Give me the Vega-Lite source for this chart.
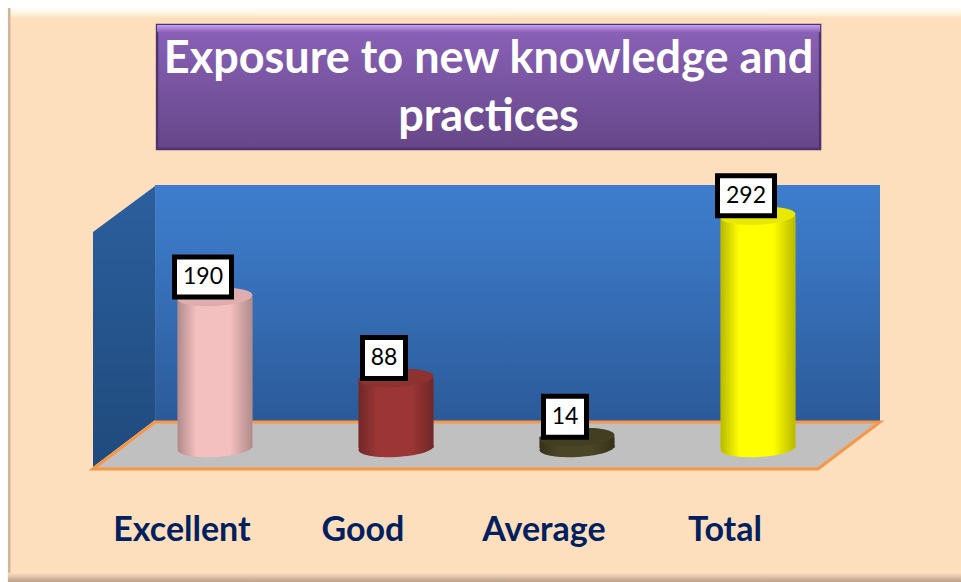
{"$schema":"https://vega.github.io/schema/vega-lite/v6.json","width":961,"height":582,"padding":0,"autosize":"none","background":"#ffffff",
"title":{"text":["Exposure to new knowledge and","practices"],"orient":"top","anchor":"middle","offset":-140,"dx":8,"font":"Lato","fontWeight":"bold","fontSize":45,"color":"#ffffff","lineHeight":58,"zindex":1},
"datasets":{
"ratings":[{"rating":"Excellent","value":190},{"rating":"Good","value":88},{"rating":"Average","value":14},{"rating":"Total","value":292}],
"panel":[{"x":-1.144,"x2":4.1215,"y":553.5,"y2":-159}],
"panelTop":[{"x":-1.144,"x2":4.1215,"y":553.5,"y2":541}],
"panelLeft":[{"x":-1.144,"x2":-1.13,"y":553.5,"y2":-168.5}],
"panelBottom":[{"x":-1.144,"x2":4.1215,"y":-157,"y2":-168.5}],
"backWall":[{"x":-0.331,"x2":3.674,"y":330.8,"y2":34}],
"leftWall":[{"x":-0.674,"y":271.7,"y2":-23.9},{"x":-0.331,"y":329.6,"y2":35.2}],
"floor":[{"x":-0.674,"y":-26.4,"y2":-26.4},{"x":-0.331,"y":32.7,"y2":-26.4},{"x":3.331,"y":32.7,"y2":-26.4},{"x":3.674,"y":32.7,"y2":32.7}],
"titleBox":[{"x":-0.32,"x2":3.343,"y":532,"y2":376}],
"titleBevel":[{"x":-0.32,"x2":3.343,"y":532,"y2":523}]
},
"layer":[
{"layer":[
{"data":{"name":"panel"},"mark":{"type":"rect","fill":"#fedfbd"},"encoding":{"x":{"field":"x","type":"quantitative","axis":null,"scale":{"domain":[-1.1878,4.1215],"nice":false,"zero":false}},"x2":{"field":"x2"},"y":{"field":"y","type":"quantitative","axis":null,"scale":{"domain":[-168.55,563.52],"nice":false,"zero":false}},"y2":{"field":"y2"}}},
{"data":{"name":"panelTop"},"mark":{"type":"rect","fill":{"gradient":"linear","x1":0,"y1":0,"x2":0,"y2":1,"stops":[{"offset":0,"color":"#fffdf6"},{"offset":0.6,"color":"#fff3dd"},{"offset":1,"color":"#fedfbd"}]}},"encoding":{"x":{"field":"x","type":"quantitative","axis":null},"x2":{"field":"x2"},"y":{"field":"y","type":"quantitative","axis":null},"y2":{"field":"y2"}}},
{"data":{"name":"panelLeft"},"mark":{"type":"rect","fill":"#cdb69c"},"encoding":{"x":{"field":"x","type":"quantitative","axis":null},"x2":{"field":"x2"},"y":{"field":"y","type":"quantitative","axis":null},"y2":{"field":"y2"}}},
{"data":{"name":"panelBottom"},"mark":{"type":"rect","fill":{"gradient":"linear","x1":0,"y1":0,"x2":0,"y2":1,"stops":[{"offset":0,"color":"#fedfbd"},{"offset":1,"color":"#b9a08c"}]}},"encoding":{"x":{"field":"x","type":"quantitative","axis":null},"x2":{"field":"x2"},"y":{"field":"y","type":"quantitative","axis":null},"y2":{"field":"y2"}}},
{"data":{"name":"backWall"},"mark":{"type":"rect","fill":{"gradient":"linear","x1":0,"y1":0,"x2":0,"y2":1,"stops":[{"offset":0,"color":"#3d7dcd"},{"offset":0.3,"color":"#3a75c0"},{"offset":1,"color":"#2b5a99"}]}},"encoding":{"x":{"field":"x","type":"quantitative","axis":null},"x2":{"field":"x2"},"y":{"field":"y","type":"quantitative","axis":null},"y2":{"field":"y2"}}},
{"data":{"name":"leftWall"},"mark":{"type":"area","fill":{"gradient":"linear","x1":0,"y1":0,"x2":0,"y2":1,"stops":[{"offset":0,"color":"#2c5f9e"},{"offset":1,"color":"#1f4a7c"}]}},"encoding":{"x":{"field":"x","type":"quantitative","axis":null},"y":{"field":"y","type":"quantitative","axis":null,"stack":null},"y2":{"field":"y2"}}},
{"data":{"name":"floor"},"mark":{"type":"area","fill":"#c0c0c0","stroke":"#f79646","strokeWidth":3},"encoding":{"x":{"field":"x","type":"quantitative","axis":null},"y":{"field":"y","type":"quantitative","axis":null,"stack":null},"y2":{"field":"y2"}}},
{"data":{"name":"titleBox"},"mark":{"type":"rect","stroke":"#4d3470","strokeWidth":2.5,"fill":{"gradient":"linear","x1":0,"y1":0,"x2":0,"y2":1,"stops":[{"offset":0,"color":"#8a62b8"},{"offset":1,"color":"#664688"}]}},"encoding":{"x":{"field":"x","type":"quantitative","axis":null},"x2":{"field":"x2"},"y":{"field":"y","type":"quantitative","axis":null},"y2":{"field":"y2"}}},
{"data":{"name":"titleBevel"},"mark":{"type":"rect","fill":{"gradient":"linear","x1":0,"y1":0,"x2":0,"y2":1,"stops":[{"offset":0,"color":"#c9a2ee"},{"offset":1,"color":"#8a62b8"}]}},"encoding":{"x":{"field":"x","type":"quantitative","axis":null},"x2":{"field":"x2"},"y":{"field":"y","type":"quantitative","axis":null},"y2":{"field":"y2"}}}
]},
{"data":{"name":"ratings"},"encoding":{"x":{"field":"rating","type":"nominal","scale":{"domain":["Excellent","Good","Average","Total"],"range":[177.5,795.5],"paddingInner":0.5856,"paddingOuter":0},"axis":{"title":null,"orient":"bottom","offset":-69,"domain":false,"ticks":false,"grid":false,"labelAngle":0,"labelFont":"Lato","labelFontWeight":"bold","labelFontSize":34,"labelColor":"#002060","labelPadding":0,"labelOffset":-33,"labelBaseline":"top","zindex":1,"labelOverlap":false}}},
"layer":[
{"mark":{"type":"point","filled":true,"opacity":1,"shape":"M-1,0A1,0.24 0 1,1 1,0A1,0.24 0 1,1 -1,0Z","size":5625,"angle":-3},"encoding":{"y":{"datum":0,"type":"quantitative","axis":null},"color":{"field":"rating","type":"nominal","legend":null,"scale":{"domain":["Excellent","Good","Average","Total"],"range":["#f4bfbf","#9c3636","#4a4526","#ffff00"]}}}},
{"mark":{"type":"point","filled":true,"opacity":1,"shape":"M-1,0A1,0.24 0 1,1 1,0A1,0.24 0 1,1 -1,0Z","size":5625,"angle":-3,"fill":{"gradient":"linear","x1":0,"y1":0,"x2":1,"y2":0,"stops":[{"offset":0,"color":"rgba(0,0,0,0.28)"},{"offset":0.25,"color":"rgba(0,0,0,0)"},{"offset":0.7,"color":"rgba(0,0,0,0)"},{"offset":1,"color":"rgba(0,0,0,0.28)"}]}},"encoding":{"y":{"datum":0,"type":"quantitative","axis":null}}},
{"mark":{"type":"bar"},"encoding":{"y":{"field":"value","type":"quantitative","axis":null},"color":{"field":"rating","type":"nominal","legend":null}}},
{"mark":{"type":"bar","fill":{"gradient":"linear","x1":0,"y1":0,"x2":1,"y2":0,"stops":[{"offset":0,"color":"rgba(0,0,0,0.28)"},{"offset":0.25,"color":"rgba(0,0,0,0)"},{"offset":0.7,"color":"rgba(0,0,0,0)"},{"offset":1,"color":"rgba(0,0,0,0.28)"}]}},"encoding":{"y":{"field":"value","type":"quantitative","axis":null}}},
{"mark":{"type":"point","filled":true,"opacity":1,"shape":"M-1,0A1,0.24 0 1,1 1,0A1,0.24 0 1,1 -1,0Z","size":5625,"angle":-3},"encoding":{"y":{"field":"value","type":"quantitative","axis":null},"color":{"field":"rating","type":"nominal","legend":null}}},
{"mark":{"type":"point","filled":true,"shape":"M-1,0A1,0.24 0 1,1 1,0A1,0.24 0 1,1 -1,0Z","size":5625,"angle":-3,"fill":"#000000","opacity":0.09},"encoding":{"y":{"field":"value","type":"quantitative","axis":null}}},
{"transform":[{"filter":"datum.value >= 100"}],"mark":{"type":"rect","width":57,"height":40,"xOffset":-12,"yOffset":-20,"fill":"#ffffff","stroke":"#000000","strokeWidth":5},"encoding":{"y":{"field":"value","type":"quantitative","axis":null}}},
{"transform":[{"filter":"datum.value < 100"}],"mark":{"type":"rect","width":43,"height":41,"xOffset":-12,"yOffset":-20,"fill":"#ffffff","stroke":"#000000","strokeWidth":5},"encoding":{"y":{"field":"value","type":"quantitative","axis":null}}},
{"mark":{"type":"text","font":"Lato","fontSize":23,"color":"#000000","xOffset":-12,"yOffset":-20,"baseline":"middle","align":"center"},"encoding":{"y":{"field":"value","type":"quantitative","axis":null},"text":{"field":"value","type":"quantitative"}}}
]}
],
"resolve":{"scale":{"x":"independent"}},
"config":{"view":{"stroke":null}}}
